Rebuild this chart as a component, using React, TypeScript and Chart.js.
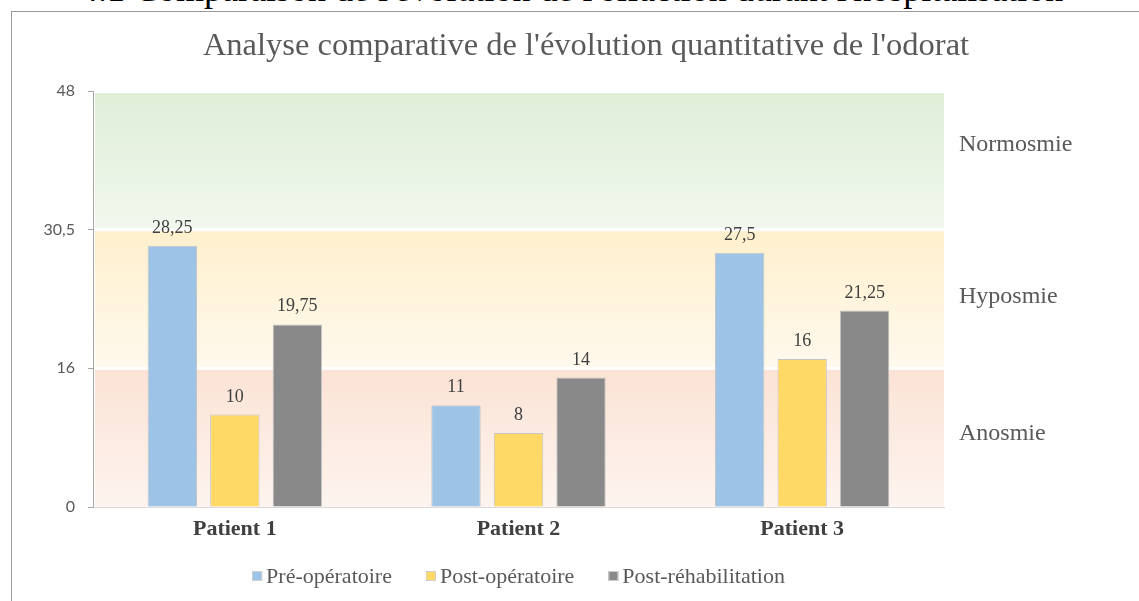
import React, { useEffect, useRef } from "react";
import { Chart, registerables } from "chart.js";

Chart.register(...registerables);

const categories = ["Patient 1", "Patient 2", "Patient 3"];
const seriesNames = ["Pré-opératoire", "Post-opératoire", "Post-réhabilitation"];
const preOp = [28.25, 11, 27.5];
const postOp = [10, 8, 16];
const postRehab = [19.75, 14, 21.25];
const seriesColors = ["#9dc3e6", "#ffd966", "#898989"];

const tickValues = [0, 15, 30, 45];
const tickLabels = ["0", "16", "30,5", "48"];
const zoneNames = ["Anosmie", "Hyposmie", "Normosmie"];
const zoneLabelValues = [7.9, 22.8, 39.2];
const zoneTopColors = ["#fbe3d5", "#fff0cd", "#e0eed8"];
const zoneBottomColors = ["#fdf4ef", "#fff9ed", "#f1f8ee"];

const chartTitle = "Analyse comparative de l'évolution quantitative de l'odorat";
const sectionHeading = "4.1 Comparaison de l'évolution de l'olfaction durant l'hospitalisation";

const SERIF = "'Liberation Serif', 'Times New Roman', serif";

const zonesPlugin = {
  id: "zones",
  beforeDraw(chart: any) {
    const { ctx, chartArea, scales } = chart;
    const y = scales.y;
    ctx.save();
    for (let i = 0; i < tickValues.length - 1; i++) {
      const yBottom = y.getPixelForValue(tickValues[i]);
      const yTop = y.getPixelForValue(tickValues[i + 1]);
      const top = i === tickValues.length - 2 ? yTop + 2 : yTop + 1.5;
      const bottom = i === 0 ? yBottom : yBottom - 1.5;
      const g = ctx.createLinearGradient(0, top, 0, bottom);
      g.addColorStop(0, zoneTopColors[i]);
      g.addColorStop(1, zoneBottomColors[i]);
      ctx.fillStyle = g;
      ctx.fillRect(chartArea.left + 2, top, chartArea.right - chartArea.left - 2, bottom - top);
    }
    ctx.restore();
  },
  afterDraw(chart: any) {
    const { ctx, chartArea, scales } = chart;
    const y = scales.y;
    ctx.save();
    ctx.font = `24px ${SERIF}`;
    ctx.fillStyle = "#595959";
    ctx.textAlign = "left";
    ctx.textBaseline = "middle";
    zoneNames.forEach((name, i) => {
      ctx.fillText(name, chartArea.right + 15, y.getPixelForValue(zoneLabelValues[i]));
    });
    // title
    ctx.font = `32.5px ${SERIF}`;
    ctx.textAlign = "center";
    ctx.textBaseline = "alphabetic";
    ctx.fillText(chartTitle, 586, 55);
    // legend
    ctx.font = `22px ${SERIF}`;
    ctx.textBaseline = "middle";
    ctx.textAlign = "left";
    const box = 10;
    const gapBox = 4;
    const gapItem = 34;
    const widths = chart.data.datasets.map((d: any) => ctx.measureText(d.label).width);
    const total = widths.reduce((a: number, w: number) => a + box + gapBox + w, 0) + gapItem * (widths.length - 1);
    let x = (chartArea.left + chartArea.right) / 2 - total / 2;
    const ly = 576;
    chart.data.datasets.forEach((d: any, i: number) => {
      ctx.fillStyle = d.backgroundColor;
      ctx.fillRect(x, ly - box / 2, box, box);
      ctx.strokeStyle = "#d0d0d0";
      ctx.lineWidth = 1;
      ctx.strokeRect(x + 0.5, ly - box / 2 + 0.5, box - 1, box - 1);
      ctx.fillStyle = "#595959";
      ctx.fillText(d.label, x + box + gapBox, ly + 1);
      x += box + gapBox + widths[i] + gapItem;
    });
    ctx.restore();
  },
  afterDatasetsDraw(chart: any) {
    const { ctx } = chart;
    ctx.save();
    ctx.font = `18px ${SERIF}`;
    ctx.fillStyle = "#404040";
    ctx.textAlign = "center";
    ctx.textBaseline = "alphabetic";
    chart.data.datasets.forEach((d: any, di: number) => {
      const meta = chart.getDatasetMeta(di);
      meta.data.forEach((el: any, i: number) => {
        const text = String(d.data[i]).replace(".", ",");
        ctx.fillText(text, el.x, el.y - 13);
      });
    });
    ctx.restore();
  },
};

export default function App() {
  const ref = useRef<HTMLCanvasElement | null>(null);
  useEffect(() => {
    if (!ref.current) return;
    const chart = new Chart(ref.current, {
      type: "bar",
      data: {
        labels: categories,
        datasets: [preOp, postOp, postRehab].map((data, i) => ({
          label: seriesNames[i],
          data,
          backgroundColor: seriesColors[i],
          borderColor: "#c4c4c4",
          borderWidth: 1,
          categoryPercentage: 0.661,
          barPercentage: 0.79,
        })),
      },
      options: {
        responsive: false,
        animation: false,
        devicePixelRatio: 1,
        layout: { padding: { left: 0, right: 195, top: 91, bottom: 0 } },
        plugins: {
          legend: { display: false },
          title: { display: false },
          tooltip: { enabled: false },
        },
        scales: {
          x: {
            grid: { display: false, drawTicks: false },
            border: { display: true, color: "#d9d9d9", width: 1 },
            ticks: {
              color: "#404040",
              font: { family: SERIF, size: 22, weight: "bold" },
              padding: 9,
            },
            afterFit(scale: any) {
              scale.height = 94;
            },
          },
          y: {
            min: 0,
            max: 45,
            afterBuildTicks(scale: any) {
              scale.ticks = tickValues.map((v) => ({ value: v }));
            },
            grid: {
              drawOnChartArea: false,
              drawTicks: true,
              tickLength: 5,
              color: "#a6a6a6",
            },
            border: { display: true, color: "#a6a6a6", width: 1 },
            ticks: {
              color: "#595959",
              font: { family: "Lato, 'DejaVu Sans', sans-serif", size: 16 },
              padding: 13,
              callback: (v: any) => {
                const idx = tickValues.indexOf(Number(v));
                return idx >= 0 ? tickLabels[idx] : "";
              },
            },
            afterFit(scale: any) {
              scale.width = 93;
            },
          },
        },
      },
      plugins: [zonesPlugin],
    } as any);
    return () => chart.destroy();
  }, []);

  return (
    <div
      style={{
        position: "absolute",
        left: 0,
        top: 0,
        width: 1139,
        height: 601,
        overflow: "hidden",
        background: "#ffffff",
      }}
    >
      <div
        style={{
          position: "absolute",
          left: 80,
          top: -29,
          whiteSpace: "nowrap",
          fontFamily: SERIF,
          fontSize: 36,
          lineHeight: "36px",
          color: "#000000",
        }}
      >
        {sectionHeading}
      </div>
      <div
        style={{
          position: "absolute",
          left: 11,
          top: 11,
          width: 1200,
          height: 700,
          borderLeft: "1px solid #9a9a9a",
          borderTop: "1px solid #9a9a9a",
        }}
      />
      <canvas
        ref={ref}
        width={1139}
        height={601}
        style={{ position: "absolute", left: 0, top: 0, width: 1139, height: 601 }}
      />
    </div>
  );
}
